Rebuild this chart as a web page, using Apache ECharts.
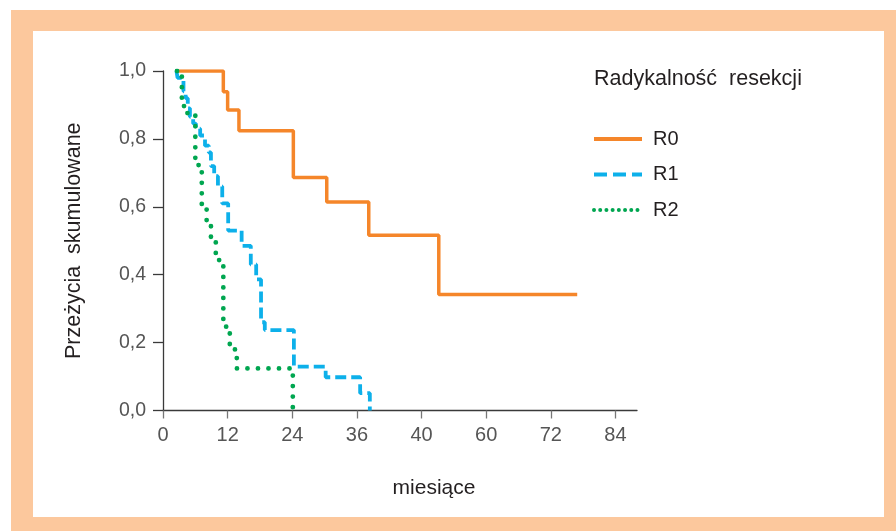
<!DOCTYPE html>
<html>
<head>
<meta charset="utf-8">
<script src="https://cdn.jsdelivr.net/npm/echarts@6/dist/echarts.min.js"></script>
<style>
  html, body { margin: 0; padding: 0; background: #fff; }
  #frame { position: absolute; left: 11px; top: 10px; width: 885px; height: 521px; background: #fcc89d; }
  #inner { position: absolute; left: 33px; top: 31px; width: 851px; height: 486px; background: #fff; }
  #chart { position: absolute; left: 0; top: 0; width: 896px; height: 531px; }
</style>
</head>
<body>
<div id="frame"></div>
<div id="inner"></div>
<div id="chart"></div>
<script>
  // miesiące, przeżycie skumulowane (step 'end': punkt = moment spadku i nowy poziom)
  var r0 = [[2.6, 1.0], [11.2, 0.939], [12.0, 0.885], [14.1, 0.824], [24.2, 0.686],
    [30.4, 0.614], [38.2, 0.516], [51.2, 0.342], [76.9, 0.342]]
  var r1 = [[2.5, 1.0], [2.7, 0.98], [3.8, 0.94], [4.2, 0.92], [4.6, 0.89], [5.0, 0.865],
    [5.6, 0.845], [6.1, 0.83], [6.9, 0.81], [7.8, 0.78], [8.5, 0.76], [8.9, 0.72],
    [9.5, 0.69], [10.2, 0.66], [11.0, 0.61], [12.1, 0.53], [14.6, 0.485], [16.3, 0.43],
    [17.3, 0.386], [18.2, 0.26], [18.9, 0.237], [24.3, 0.129], [30.2, 0.098],
    [36.6, 0.051], [38.4, 0]]
  var r2 = [[2.6, 1.0], [3.5, 0.91], [3.9, 0.876], [6.0, 0.723], [7.2, 0.60], [8.1, 0.56],
    [8.9, 0.50], [9.8, 0.443], [11.2, 0.247], [12.4, 0.18], [13.7, 0.124], [24.1, 0]]

  var xTicks = [0, 12, 24, 36, 48, 60, 72, 84]
  var xLabels = ['0', '12', '24', '36', '40', '60', '72', '84']
  var yLabels = ['0,0', '0,2', '0,4', '0,6', '0,8', '1,0']

  var font = '"Liberation Sans", Arial, sans-serif'
  var chart = echarts.init(document.getElementById('chart'))

  chart.setOption({
    animation: false,
    textStyle: { fontFamily: font },
    title: {
      text: 'Radykalność  resekcji',
      left: 594,
      top: 68,
      padding: 0,
      textStyle: { fontFamily: font, fontSize: 21.5, fontWeight: 'normal', color: '#231f20' }
    },
    legend: {
      orient: 'vertical',
      left: 592,
      top: 129,
      padding: 0,
      itemWidth: 48,
      itemHeight: 14,
      itemGap: 15.5,
      itemStyle: { opacity: 0 },
      textStyle: { fontFamily: font, fontSize: 20, lineHeight: 20, color: '#231f20', padding: [0, 0, 0, 6] },
      data: [
        { name: 'R0', lineStyle: { width: 4 } },
        { name: 'R1', lineStyle: { width: 4, type: [13, 6] } },
        { name: 'R2', lineStyle: { width: 4, type: [0.01, 6.2], cap: 'round' } }
      ]
    },
    grid: { left: 163, right: 259, top: 71, bottom: 120.5 },
    xAxis: {
      type: 'value',
      min: 0,
      max: 88,
      name: 'miesiące',
      nameLocation: 'middle',
      nameGap: 67,
      nameTextStyle: { fontFamily: font, fontSize: 21, color: '#231f20', padding: [0, 0, 0, 68] },
      splitLine: { show: false },
      axisLine: { lineStyle: { color: '#3a3a3a', width: 1.3 } },
      axisTick: { length: 8, customValues: xTicks, lineStyle: { color: '#777', width: 1.3 } },
      axisLabel: {
        customValues: xTicks,
        margin: 15,
        fontSize: 20,
        color: '#555',
        formatter: function(v) {
          return xLabels[xTicks.indexOf(v)]
        }
      }
    },
    yAxis: {
      type: 'value',
      min: 0,
      max: 1,
      interval: 0.2,
      name: 'Przeżycia  skumulowane',
      nameLocation: 'middle',
      nameGap: 78,
      nameTextStyle: { fontFamily: font, fontSize: 21.5, color: '#231f20' },
      splitLine: { show: false },
      axisLine: { show: true, onZero: false, lineStyle: { color: '#3a3a3a', width: 1.3 } },
      axisTick: { show: true, length: 10, lineStyle: { color: '#3a3a3a', width: 1.3 } },
      axisLabel: {
        margin: 17,
        fontSize: 19.5,
        color: '#555',
        formatter: function(v) {
          return yLabels[Math.round(v / 0.2)]
        }
      }
    },
    series: [
      {
        name: 'R0',
        type: 'line',
        step: 'end',
        symbol: 'none',
        color: '#f5862a',
        lineStyle: { width: 3.5, color: '#f5862a' },
        data: r0
      },
      {
        name: 'R1',
        type: 'line',
        step: 'end',
        symbol: 'none',
        color: '#0db0ea',
        lineStyle: { width: 3.8, color: '#0db0ea', type: [11, 5] },
        data: r1
      },
      {
        name: 'R2',
        type: 'line',
        step: 'end',
        symbol: 'none',
        color: '#00a650',
        lineStyle: { width: 4.8, color: '#00a650', type: [0.01, 10.5], cap: 'round' },
        data: r2
      }
    ]
  })
</script>
</body>
</html>
